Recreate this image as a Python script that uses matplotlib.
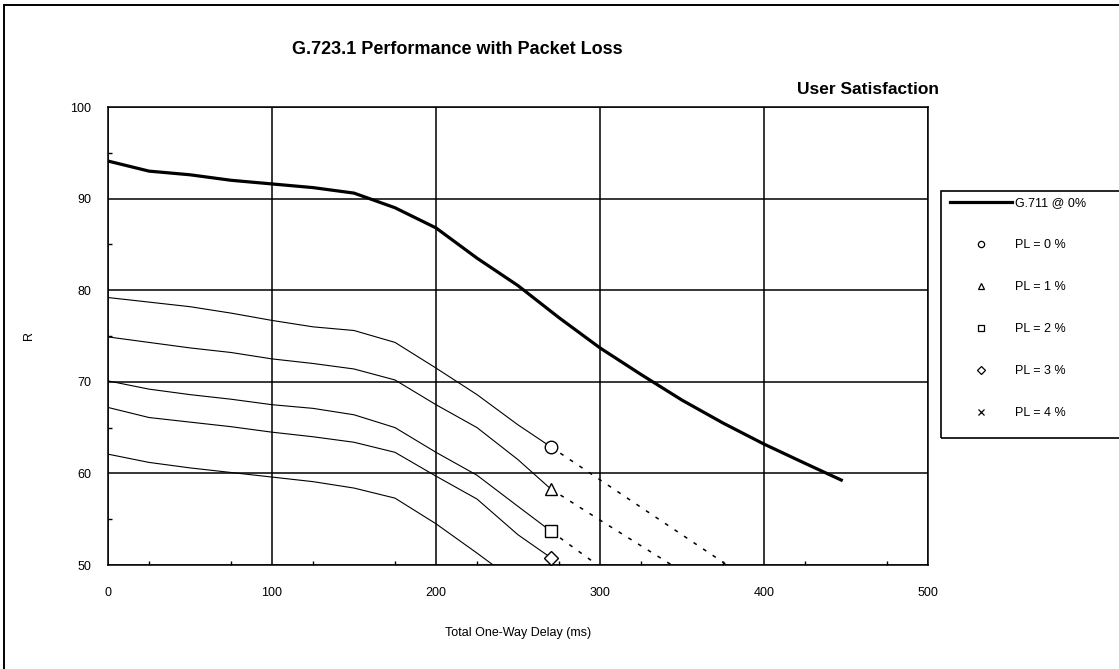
import matplotlib
matplotlib.use("Agg")
import matplotlib.pyplot as plt
from matplotlib.lines import Line2D
from matplotlib.patches import Rectangle

plt.rcParams["font.family"] = ["Liberation Sans", "DejaVu Sans"]

# G.711 reference curve, no packet loss
g711_delay = [0, 25, 50, 75, 100, 125, 150, 175, 200, 225, 250, 275, 300,
              325, 350, 375, 400, 425, 448]
g711_r = [94.1, 93.0, 92.6, 92.0, 91.6, 91.2, 90.6, 89.0, 86.8, 83.5, 80.5,
          77.0, 73.7, 70.8, 68.0, 65.5, 63.2, 61.1, 59.2]

# G.723.1 with packet loss, measured range
pl_delay = [0, 25, 50, 75, 100, 125, 150, 175, 200, 225, 250, 270]
pl0_r = [79.2, 78.7, 78.2, 77.5, 76.7, 76.0, 75.6, 74.3, 71.5, 68.6, 65.3, 62.9]
pl1_r = [74.9, 74.3, 73.7, 73.2, 72.5, 72.0, 71.4, 70.2, 67.5, 65.0, 61.5, 58.3]
pl2_r = [70.1, 69.2, 68.6, 68.1, 67.5, 67.1, 66.4, 65.0, 62.3, 59.8, 56.4, 53.7]
pl3_r = [67.2, 66.1, 65.6, 65.1, 64.5, 64.0, 63.4, 62.3, 59.7, 57.2, 53.3, 50.8]
pl4_r = [62.1, 61.2, 60.6, 60.1, 59.6, 59.1, 58.4, 57.3, 54.5, 51.3, 48.0, 45.5]

# extrapolated range beyond 270 ms
ext_delay = [270, 300, 325, 350, 375, 400]
pl0_ext = [62.9, 59.3, 56.3, 53.3, 50.3, 47.3]
pl1_ext = [58.3, 54.9, 52.1, 49.3, 46.5, 43.7]
pl2_ext = [53.7, 49.8, 46.6, 43.4, 40.2, 37.0]
pl3_ext = [50.8, 47.0, 43.9, 40.8, 37.7, 34.6]
pl4_ext = [45.5, 41.7, 38.6, 35.5, 32.4, 29.3]

pl_labels = ["PL = 0 %", "PL = 1 %", "PL = 2 %", "PL = 3 %", "PL = 4 %"]
pl_markers = ["o", "^", "s", "D", "x"]

W, H = 1119, 669
fig = plt.figure(figsize=(W / 100, H / 100), dpi=100)
ax = fig.add_axes([108 / W, 1 - 565 / H, (928 - 108) / W, (565 - 107) / H])

ax.plot(g711_delay, g711_r, color="black", lw=2.3, solid_capstyle="butt", zorder=4)

series = [pl0_r, pl1_r, pl2_r, pl3_r, pl4_r]
ext = [pl0_ext, pl1_ext, pl2_ext, pl3_ext, pl4_ext]
for r, e, mk in zip(series, ext, pl_markers):
    ax.plot(pl_delay, r, color="black", lw=0.8, zorder=3)
    ax.plot(ext_delay, e, color="black", lw=1.1, linestyle=(0, (2.5, 5)), zorder=3)
    ms = 7.5 if mk == "D" else 9
    ax.plot(pl_delay[-1], r[-1], marker=mk, ms=ms, mfc="white", mec="black",
            mew=1.0, color="black", linestyle="none", zorder=5)

ax.set_xlim(0, 500)
ax.set_ylim(50, 100)
ax.set_xticks(range(0, 501, 100))
ax.set_yticks(range(50, 101, 10))
ax.set_xticks(range(25, 500, 50), minor=True)
ax.set_yticks(range(55, 100, 10), minor=True)
ax.grid(True, which="major", color="black", lw=1.1)
for s in ax.spines.values():
    s.set_linewidth(1.1)
ax.tick_params(which="major", length=0, labelsize=9, pad=16)
ax.tick_params(axis="y", which="major", pad=12)
ax.tick_params(which="minor", direction="in", length=3, width=1)

ax.set_xlabel("Total One-Way Delay (ms)", fontsize=9, labelpad=20)
ax.set_ylabel("R", fontsize=9)
ax.yaxis.set_label_coords((35 - 108) / 820, 0.5)

fig.text(292 / W, 1 - 49 / H, "G.723.1 Performance with Packet Loss",
         ha="left", va="center", fontsize=13, fontweight="bold")
fig.text(939 / W, 1 - 90 / H, "User Satisfaction", ha="right", va="center",
         fontsize=12.5, fontweight="bold")

# legend box runs off the right edge
fig.add_artist(Rectangle((941 / W, 1 - 438 / H), 0.2, (438 - 191) / H,
                         transform=fig.transFigure, fill=False, ec="black",
                         lw=1.2, clip_on=False))
handles = [Line2D([], [], color="black", lw=2.3)]
for mk in pl_markers:
    handles.append(Line2D([], [], marker=mk, ms=4.5, mfc="white", mec="black",
                          mew=0.9, color="black", linestyle="none"))
fig.legend(handles, ["G.711 @ 0%"] + pl_labels, loc="upper left",
           bbox_to_anchor=(949 / W, 1 - 196 / H), frameon=False, fontsize=9,
           handlelength=4.9, handletextpad=0.3, labelspacing=2.4,
           borderpad=0.1, borderaxespad=0)

# outer chart frame
fig.add_artist(Rectangle((4 / W, -0.1), 1.2, 1 - 5 / H + 0.1,
                         transform=fig.transFigure, fill=False, ec="black",
                         lw=1.4, clip_on=False))

fig.savefig("out.png", dpi=100)
